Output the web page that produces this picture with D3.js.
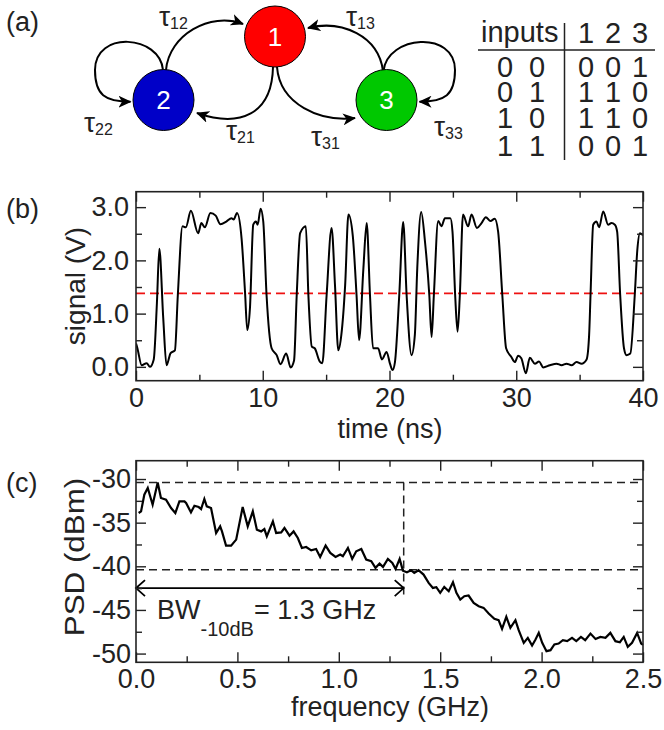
<!DOCTYPE html>
<html>
<head>
<meta charset="utf-8">
<script src="https://cdn.jsdelivr.net/npm/d3@7"></script>
<style>
  body { margin: 0; background: #fff; }
  svg text { font-family: "Liberation Sans", Arial, Helvetica, sans-serif; fill: #222; }
</style>
</head>
<body>
<div id="fig"></div>
<script>
// ---- data ----
// (b) signal trace
const signalTime = [0, 0.1, 0.45, 0.84, 1.1, 1.4, 1.65, 1.84, 2.15, 2.41, 2.73, 3.07, 3.3, 3.67, 3.93, 4.33, 4.9, 5.16,
  5.43, 5.87, 6.29, 6.66, 7.13, 7.53, 7.71, 7.97, 8.33, 8.6, 8.78, 8.99, 9.25, 9.46, 9.6, 9.83, 10.04, 10.3, 10.7,
  11.1, 11.4, 11.85, 12.2, 12.47, 12.68, 12.95, 13.4, 13.6, 13.87, 14.1, 14.5, 14.7, 15.04, 15.43, 15.7, 15.96, 16.2,
  16.5, 16.76, 17.1, 17.4, 17.6, 17.94, 18.2, 18.46, 18.7, 19.1, 19.4, 19.77, 20.05, 20.24, 20.43, 20.77, 21.08,
  21.35, 21.74, 22.0, 22.19, 22.5, 22.8, 23.14, 23.32, 23.5, 23.84, 24.1, 24.37, 24.8, 24.97, 25.18, 25.37, 25.55,
  25.8, 26.2, 26.47, 26.9, 27.26, 27.6, 27.97, 28.3, 28.57, 28.9, 29.2, 29.6, 29.89, 30.15, 30.4, 30.76, 31.07,
  31.47, 31.8, 32.13, 32.65, 33.18, 33.58, 33.97, 34.36, 34.76, 35.15, 35.55, 35.75, 35.86, 36.07, 36.33, 36.54,
  36.86, 37.25, 37.51, 37.78, 37.96, 38.2, 38.5, 38.7, 39.0, 39.35, 39.55, 39.76, 40.0];
const signalVolt = [0.44, 0.36, 0.03, 0.07, 0.0, 0.14, 1.2, 2.22, 0.91, 0.03, 0.26, 0.31, 1.35, 2.64, 2.62, 2.93, 2.51, 2.70,
  2.62, 2.89, 2.84, 2.68, 2.73, 2.79, 2.77, 2.89, 2.41, 1.41, 0.69, 1.1, 2.67, 2.73, 2.67, 2.97, 2.73, 1.35, 0.35,
  0.22, 0.05, 0.25, -0.01, 0.12, 1.35, 2.51, 2.64, 1.35, 0.38, 0.35, 0.1, 0.07, 1.35, 2.61, 1.53, 0.31, 0.6,
  1.53, 2.86, 2.47, 1.35, 0.5, 1.85, 2.70, 1.35, 0.35, 0.35, 0.14, 0.28, 0.05, -0.06, 0.09, 1.35, 2.72,
  1.35, 0.22, 0.6, 1.85, 2.91, 2.35, 1.35, 0.56, 1.35, 2.74, 2.64, 2.79, 2.79, 2.54, 1.35, 0.66, 1.35,
  2.86, 2.64, 2.86, 2.61, 2.70, 2.81, 2.74, 2.78, 2.54, 1.35, 0.35, 0.19, 0.09, 0.21, 0.16, -0.12, 0.17,
  0.06, 0.1, -0.01, 0.03, 0.06, 0.03, 0.06, 0.03, 0.09, 0.06, 0.14, 0.6, 1.35, 2.67, 2.73, 2.62,
  2.92, 2.67, 2.70, 2.67, 2.54, 1.35, 0.35, 0.22, 0.25, 1.35, 2.19, 2.51, 2.47];
const threshold = 1.38;

// (c) power spectral density
const freqGHz = [0.013, 0.025, 0.041, 0.058, 0.082, 0.107, 0.123, 0.148, 0.173, 0.194, 0.214, 0.239, 0.247, 0.271,
  0.288, 0.309, 0.321, 0.337, 0.349, 0.37, 0.395, 0.415, 0.424, 0.444, 0.469, 0.494, 0.526, 0.551, 0.576, 0.596,
  0.617, 0.633, 0.645, 0.675, 0.691, 0.716, 0.732, 0.757, 0.777, 0.798, 0.818, 0.839, 0.864, 0.888, 0.908, 0.935,
  0.958, 0.984, 1.007, 1.02, 1.045, 1.066, 1.086, 1.111, 1.135, 1.16, 1.181, 1.201, 1.218, 1.242, 1.264, 1.28, 1.3,
  1.316, 1.336, 1.356, 1.372, 1.393, 1.418, 1.443, 1.464, 1.481, 1.5, 1.52, 1.542, 1.563, 1.58, 1.599, 1.619, 1.64,
  1.665, 1.69, 1.714, 1.739, 1.767, 1.788, 1.805, 1.826, 1.846, 1.871, 1.887, 1.912, 1.932, 1.953, 1.97, 1.986,
  2.003, 2.024, 2.044, 2.063, 2.084, 2.105, 2.126, 2.15, 2.171, 2.194, 2.215, 2.241, 2.266, 2.29, 2.315, 2.339,
  2.364, 2.386, 2.405, 2.425, 2.446, 2.471, 2.491, 2.5];
const psdDbm = [-33.89, -33.7, -31.8, -31.03, -32.94, -30.39, -32.17, -32.37, -33.32, -33.89, -32.56, -32.56, -32.75, -33.82,
  -33.06, -33.21, -33.44, -32.29, -33.13, -33.32, -36.18, -35.42, -36.0, -37.63, -37.63, -36.94, -33.21, -35.42, -33.7, -35.8,
  -36.0, -35.73, -36.57, -34.85, -36.18, -36.11, -35.61, -36.49, -36.0, -36.76, -37.9, -37.79, -38.17, -38.02, -38.93, -37.63,
  -38.47, -38.93, -38.66, -38.85, -37.9, -39.15, -38.28, -38.02, -39.23, -39.42, -40.18, -39.69, -40.07, -39.15, -39.61, -40.3, -39.15,
  -40.5, -40.68, -40.45, -40.76, -40.45, -40.95, -41.9, -42.48, -42.4, -43.04, -42.36, -42.85, -41.83, -43.04, -43.81, -43.43, -43.35,
  -44.19, -44.57, -44.76, -45.41, -46.02, -46.17, -47.16, -45.79, -47.05, -46.17, -47.32, -48.77, -48.2, -49.08, -48.39, -47.63,
  -48.77, -49.72, -49.61, -48.96, -48.85, -48.47, -48.58, -48.2, -48.58, -48.09, -48.47, -47.71, -48.32, -48.09, -48.2, -47.63,
  -48.58, -48.7, -48.09, -49.23, -48.77, -47.63, -48.85, -49.0];
const psdPeak = -30.4;
const psdMinus10 = -40.4;
const bandwidthGHz = 1.32;
const bwArrowLevel = -42.5;

// ticks
const timeTicks = [0, 10, 20, 30, 40];
const timeMinor = [5, 15, 25, 35];
const voltTicks = [0, 1, 2, 3];
const voltMinor = [0.5, 1.5, 2.5];
const freqTicks = [0, 0.5, 1, 1.5, 2, 2.5];
const freqMinor = [0.25, 0.75, 1.25, 1.75, 2.25];
const psdTicks = [-50, -45, -40, -35, -30];
const psdMinor = [-47.5, -42.5, -37.5, -32.5];

// (a) truth table and network
const tableHeader = ["1", "2", "3"];
const tableInputs = [["0", "0"], ["0", "1"], ["1", "0"], ["1", "1"]];
const tableOutputs = [["0", "0", "1"], ["1", "1", "0"], ["1", "1", "0"], ["0", "0", "1"]];
const nodeNames = ["1", "2", "3"];
const nodeColors = ["#ff0000", "#0000c8", "#00c800"];
const couplings = ["12", "13", "21", "31", "22", "33"];

// ---- drawing ----
const W = 664, H = 730;
const FONT = 27;
const svg = d3.select("#fig").append("svg")
  .attr("width", W).attr("height", H);
svg.append("rect").attr("width", W).attr("height", H).attr("fill", "#fff");

// panel letters
[["(a)", 31], ["(b)", 218], ["(c)", 492]].forEach(([t, y]) => {
  svg.append("text").attr("x", 6).attr("y", y).attr("font-size", FONT).text(t);
});

// frame with inward ticks on all sides
function drawFrame(g, x, y, o) {
  const [xl, xr] = x.range(), [yb, yt] = y.range();
  const style = sel => {
    sel.select(".domain").remove();
    sel.selectAll("line").attr("stroke", "#222").attr("stroke-width", 1.4);
    sel.attr("font-size", FONT).attr("font-family", null);
  };
  g.append("g").attr("transform", `translate(0,${yb})`)
    .call(d3.axisBottom(x).tickValues(o.xTicks).tickSize(-10).tickPadding(o.xPad).tickFormat(o.xFmt)).call(style);
  g.append("g").attr("transform", `translate(0,${yb})`)
    .call(d3.axisBottom(x).tickValues(o.xMinor).tickSize(-6).tickFormat("")).call(style);
  g.append("g").attr("transform", `translate(0,${yt})`)
    .call(d3.axisTop(x).tickValues(o.xTicks).tickSize(-10).tickFormat("")).call(style);
  g.append("g").attr("transform", `translate(0,${yt})`)
    .call(d3.axisTop(x).tickValues(o.xMinor).tickSize(-6).tickFormat("")).call(style);
  g.append("g").attr("transform", `translate(${xl},0)`)
    .call(d3.axisLeft(y).tickValues(o.yTicks).tickSize(-10).tickPadding(o.yPad).tickFormat(o.yFmt)).call(style);
  g.append("g").attr("transform", `translate(${xl},0)`)
    .call(d3.axisLeft(y).tickValues(o.yMinor).tickSize(-6).tickFormat("")).call(style);
  g.append("g").attr("transform", `translate(${xr},0)`)
    .call(d3.axisRight(y).tickValues(o.yTicks).tickSize(-10).tickFormat("")).call(style);
  g.append("g").attr("transform", `translate(${xr},0)`)
    .call(d3.axisRight(y).tickValues(o.yMinor).tickSize(-6).tickFormat("")).call(style);
  g.append("rect")
    .attr("x", xl).attr("y", yt).attr("width", xr - xl).attr("height", yb - yt)
    .attr("fill", "none").attr("stroke", "#222").attr("stroke-width", 1.6);
}

// ---------- panel (b) ----------
const xb = d3.scaleLinear().domain([0, 40]).range([136, 643]);
const yb = d3.scaleLinear().domain([-0.26, 3.29]).range([380.7, 191.7]);
const gb = svg.append("g");
gb.append("clipPath").attr("id", "clipB").append("rect")
  .attr("x", 136).attr("y", 191.7).attr("width", 507).attr("height", 189);

gb.append("line")
  .attr("x1", xb(0)).attr("x2", xb(40)).attr("y1", yb(threshold)).attr("y2", yb(threshold))
  .attr("stroke", "#ee1111").attr("stroke-width", 1.6).attr("stroke-dasharray", "9,5");

const sig = signalTime.map((t, i) => [t, signalVolt[i]]);
gb.append("path").datum(sig)
  .attr("clip-path", "url(#clipB)")
  .attr("fill", "none").attr("stroke", "#000").attr("stroke-width", 2)
  .attr("d", d3.line().x(d => xb(d[0])).y(d => yb(d[1])).curve(d3.curveMonotoneX));

drawFrame(gb, xb, yb, {
  xTicks: timeTicks, xMinor: timeMinor, xFmt: d3.format("d"), xPad: 7,
  yTicks: voltTicks, yMinor: voltMinor, yFmt: d3.format(".1f"), yPad: 7
});
gb.append("text").attr("x", 390).attr("y", 438).attr("text-anchor", "middle")
  .attr("font-size", FONT).text("time (ns)");
gb.append("text").attr("transform", "translate(85,286) rotate(-90)").attr("text-anchor", "middle")
  .attr("font-size", 28).text("signal (V)");

// ---------- panel (c) ----------
const xc = d3.scaleLinear().domain([0, 2.5]).range([136, 643]);
const yc = d3.scaleLinear().domain([-51, -27.9]).range([662.3, 460.7]);
const gc = svg.append("g");

[psdPeak, psdMinus10].forEach(v => {
  gc.append("line")
    .attr("x1", xc(0)).attr("x2", xc(2.5)).attr("y1", yc(v)).attr("y2", yc(v))
    .attr("stroke", "#222").attr("stroke-width", 1.5).attr("stroke-dasharray", "8,5");
});
gc.append("line")
  .attr("x1", xc(bandwidthGHz)).attr("x2", xc(bandwidthGHz))
  .attr("y1", yc(psdPeak)).attr("y2", yc(bwArrowLevel - 0.8))
  .attr("stroke", "#222").attr("stroke-width", 1.5).attr("stroke-dasharray", "8,5");

const psd = freqGHz.map((f, i) => [f, psdDbm[i]]);
gc.append("path").datum(psd)
  .attr("fill", "none").attr("stroke", "#000").attr("stroke-width", 2.2)
  .attr("d", d3.line().x(d => xc(d[0])).y(d => yc(d[1])));

// bandwidth arrow
const ay = yc(bwArrowLevel), ax0 = xc(0), ax1 = xc(bandwidthGHz);
gc.append("path")
  .attr("fill", "none").attr("stroke", "#000").attr("stroke-width", 1.8)
  .attr("d", `M${ax0},${ay}H${ax1}M${ax0 + 9},${ay - 8}L${ax0},${ay}L${ax0 + 9},${ay + 8}` +
             `M${ax1 - 9},${ay - 8}L${ax1},${ay}L${ax1 - 9},${ay + 8}`);
const bw = gc.append("text").attr("x", 157).attr("y", 619).attr("font-size", 27);
bw.append("tspan").text("BW");
bw.append("tspan").attr("dy", 17).attr("font-size", 20).text("-10dB");
bw.append("tspan").attr("dy", -17).text("= 1.3 GHz");

drawFrame(gc, xc, yc, {
  xTicks: freqTicks, xMinor: freqMinor, xFmt: d3.format(".1f"), xPad: 7,
  yTicks: psdTicks, yMinor: psdMinor, yFmt: d => String(d), yPad: 5
});
gc.append("text").attr("x", 390).attr("y", 716).attr("text-anchor", "middle")
  .attr("font-size", FONT).text("frequency (GHz)");
gc.append("text").attr("transform", "translate(84,557) scale(1,1.12) rotate(-90)").attr("text-anchor", "middle")
  .attr("font-size", 28).text("PSD (dBm)");

// ---------- panel (a): network ----------
const ga = svg.append("g");
const R = 30.5;
const nodeXY = { "1": [275, 36.5], "2": [163.5, 100], "3": [386.5, 100] };
const P = (n, dx, dy) => `${nodeXY[n][0] + dx},${nodeXY[n][1] + dy}`;

ga.append("defs").append("marker")
  .attr("id", "head").attr("viewBox", "0 -6 13 12")
  .attr("refX", 12).attr("refY", 0)
  .attr("markerWidth", 13).attr("markerHeight", 12)
  .attr("markerUnits", "userSpaceOnUse").attr("orient", "auto")
  .append("path").attr("d", "M0,-6L13,0L0,6L3.5,0Z").attr("fill", "#000");

const arrowPaths = {
  "12": `M${P("2", 2.5, -30)}C${P("2", 5.5, -65)} ${P("1", -65, -25)} ${P("1", -32, -12.5)}`,
  "13": `M${P("3", -3.5, -29)}C${P("3", -8, -64)} ${P("1", 67, -17)} ${P("1", 33, -8.5)}`,
  "21": `M${P("1", -2, 30.5)}C${P("1", -3, 78)} ${P("2", 76.5, 28)} ${P("2", 33.5, 13)}`,
  "31": `M${P("1", 2, 30.5)}C${P("1", 5, 68)} ${P("3", -66.5, 22)} ${P("3", -31.5, 18)}`,
  "22": `M${P("2", -0.5, -30)}C${P("2", -3.5, -65)} ${P("2", -68.5, -70)} ${P("2", -68.5, -30)}` +
        `C${P("2", -68.5, -5)} ${P("2", -58.5, 1.7)} ${P("2", -33, 1.7)}`,
  "33": `M${P("3", -3, -29)}C${P("3", 1, -65)} ${P("3", 68.5, -70)} ${P("3", 68.5, -30)}` +
        `C${P("3", 68.5, -5)} ${P("3", 58.5, 1.7)} ${P("3", 33, 1.7)}`
};
const tauPos = { "12": [159, 26], "13": [346, 26], "21": [226, 140], "31": [311, 146], "22": [84, 132], "33": [434, 136] };

couplings.forEach(c => {
  ga.append("path").attr("d", arrowPaths[c])
    .attr("fill", "none").attr("stroke", "#000").attr("stroke-width", 2)
    .attr("marker-end", "url(#head)");
  const t = ga.append("text").attr("x", tauPos[c][0]).attr("y", tauPos[c][1]).attr("font-size", 28);
  t.append("tspan").text("τ");
  t.append("tspan").attr("dy", 3).attr("font-size", 16).text(c);
});

ga.selectAll("circle.node").data(nodeNames).join("circle")
  .attr("class", "node")
  .attr("cx", d => nodeXY[d][0]).attr("cy", d => nodeXY[d][1]).attr("r", R)
  .attr("fill", (d, i) => nodeColors[i]).attr("stroke", "#000").attr("stroke-width", 1);
ga.selectAll("text.nlab").data(nodeNames).join("text")
  .attr("class", "nlab")
  .attr("x", d => nodeXY[d][0]).attr("y", d => nodeXY[d][1])
  .attr("dy", "0.36em").attr("text-anchor", "middle").attr("font-size", 26)
  .style("fill", "#fff").text(d => d);

// ---------- panel (a): truth table ----------
const gt = svg.append("g").attr("font-size", 29);
const inCols = [505, 537], outCols = [586, 613, 640];
const rowY = [77, 102, 128, 156];
gt.append("text").attr("x", 481).attr("y", 42).text("inputs");
tableHeader.forEach((h, i) => gt.append("text").attr("x", outCols[i]).attr("y", 43)
  .attr("text-anchor", "middle").text(h));
tableInputs.forEach((row, r) => row.forEach((v, i) => gt.append("text")
  .attr("x", inCols[i]).attr("y", rowY[r]).attr("text-anchor", "middle").text(v)));
tableOutputs.forEach((row, r) => row.forEach((v, i) => gt.append("text")
  .attr("x", outCols[i]).attr("y", rowY[r]).attr("text-anchor", "middle").text(v)));
gt.append("line").attr("x1", 478).attr("x2", 655).attr("y1", 50).attr("y2", 50)
  .attr("stroke", "#222").attr("stroke-width", 1.5);
gt.append("line").attr("x1", 564.5).attr("x2", 564.5).attr("y1", 23).attr("y2", 160)
  .attr("stroke", "#222").attr("stroke-width", 1.5);
</script>
</body>
</html>
